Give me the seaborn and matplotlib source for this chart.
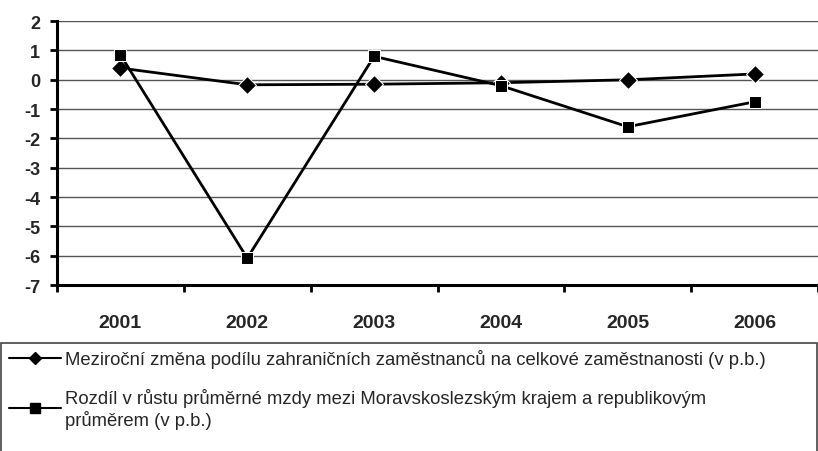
import numpy as np
import pandas as pd
import matplotlib.pyplot as plt
import seaborn as sns
from matplotlib.patches import Rectangle

years = ["2001", "2002", "2003", "2004", "2005", "2006"]
podil = [0.4, -0.17, -0.15, -0.1, 0.0, 0.2]
mzda = [0.85, -6.08, 0.8, -0.2, -1.6, -0.75]
yticks = list(range(-7, 3))

label_podil = "Meziroční změna podílu zahraničních zaměstnanců na celkové zaměstnanosti (v p.b.)"
label_mzda = "Rozdíl v růstu průměrné mzdy mezi Moravskoslezským krajem a republikovým\nprůměrem (v p.b.)"

df = pd.DataFrame({
    "rok": years * 2,
    "hodnota": podil + mzda,
    "serie": [label_podil] * 6 + [label_mzda] * 6,
})

sns.set_style("white")
plt.rcParams['font.family'] = ['Liberation Sans', 'DejaVu Sans']
plt.rcParams['axes.unicode_minus'] = False

fig = plt.figure(figsize=(8.18, 4.52), dpi=100)
ax = fig.add_axes([0.0697, 0.367, 0.9303, 0.584])

sns.lineplot(data=df, x="rok", y="hodnota", hue="serie", style="serie",
             markers={label_podil: "D", label_mzda: "s"}, dashes=False,
             palette=["black", "black"], markersize=9, linewidth=2,
             ax=ax, legend=False)

ax.set_ylim(-7, 2)
ax.set_yticks(yticks)
ax.set_yticklabels([str(v) for v in yticks], fontsize=13, fontweight="bold")
ax.set_xlim(-0.5, 5.5)
ax.set_xticks(range(6))
ax.set_xticklabels(years, fontsize=14, fontweight="bold")
ax.set_xticks(np.arange(-0.5, 6, 1), minor=True)
ax.tick_params(axis="x", which="major", length=0, pad=21, bottom=True)
ax.tick_params(axis="x", which="minor", length=5, width=2, direction="out",
               bottom=True, color="black")
ax.tick_params(axis="y", length=5, width=2, direction="out", pad=7,
               left=True, color="black")
ax.set_xlabel("")
ax.set_ylabel("")
ax.grid(axis="y", color="#555555", linewidth=1)
ax.set_axisbelow(True)
for s in ["top", "right"]:
    ax.spines[s].set_visible(False)
for s in ["left", "bottom"]:
    ax.spines[s].set_color("black")
    ax.spines[s].set_linewidth(2.2)

# legend frame running off the bottom of the picture
fig.patches.append(Rectangle((0.0015, -0.1), 0.997, 0.339, transform=fig.transFigure,
                             fill=False, edgecolor="#444444", linewidth=1.2))

handles = [
    plt.Line2D([], [], color="black", marker="D", markersize=6, linewidth=1.5),
    plt.Line2D([], [], color="black", marker="s", markersize=7, linewidth=1.5),
]
leg = fig.legend(handles, [label_podil, label_mzda], loc="upper left",
                 bbox_to_anchor=(0.0, 0.245), frameon=False,
                 prop={"size": 13.3},
                 handlelength=2.8, handletextpad=0.2, labelspacing=1.05,
                 borderaxespad=0, borderpad=0.5)

fig.savefig("out.png", dpi=100)
